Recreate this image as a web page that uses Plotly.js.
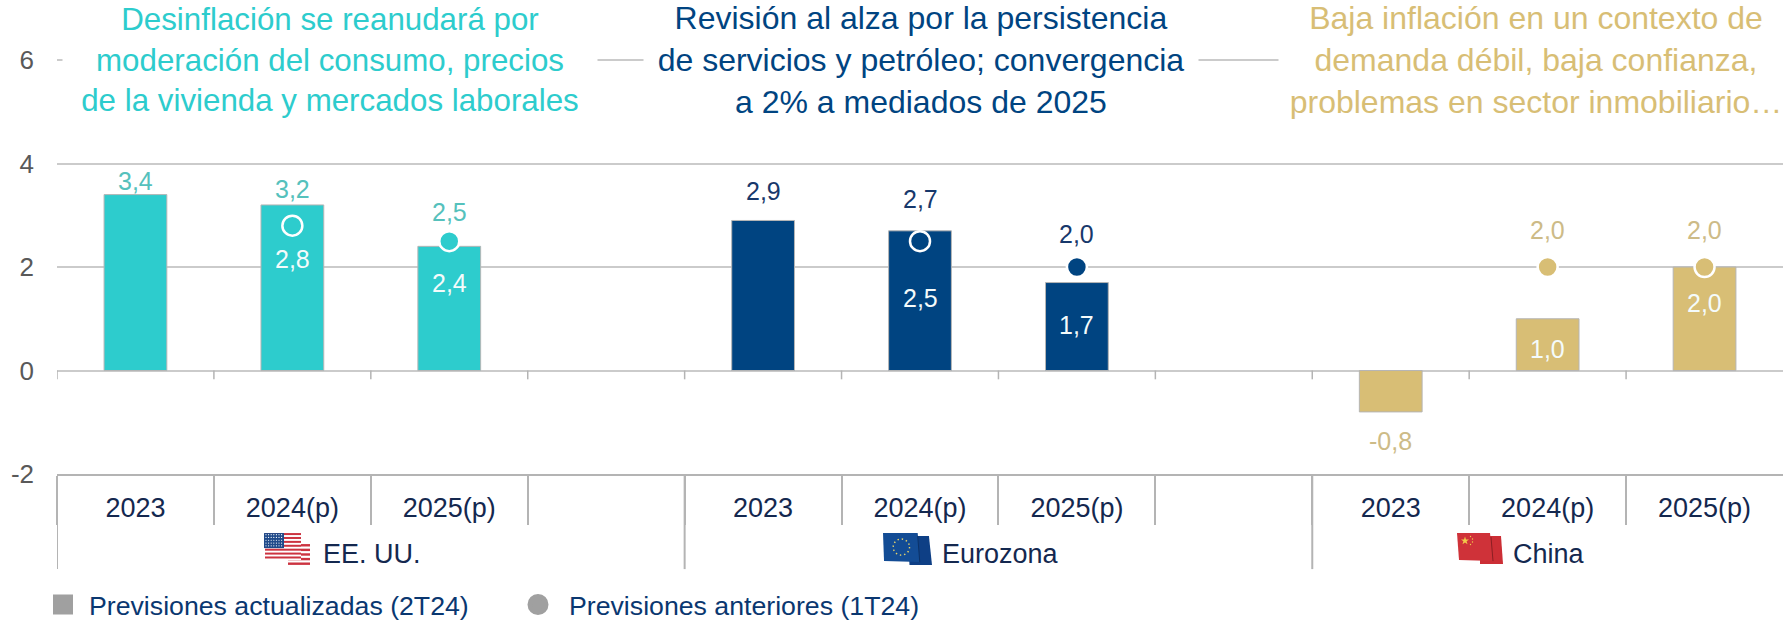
<!DOCTYPE html>
<html><head><meta charset="utf-8">
<script src="https://cdn.plot.ly/plotly-3.0.1.min.js"></script>
<style>html,body{margin:0;padding:0;background:#fff}#c{width:1791px;height:621px}</style>
</head><body><div id="c"></div>
<script>
// ---- data ----
const categories = ["2023","2024(p)","2025(p)","","2023","2024(p)","2025(p)","","2023","2024(p)","2025(p)"];
const updated = [3.4,3.2,2.4,null,2.9,2.7,1.7,null,-0.8,1.0,2.0];
const previous = [null,2.8,2.5,null,null,2.5,2.0,null,null,2.0,2.0];
const groupNames = ["EE. UU.","Eurozona","China"];
const groupTitles = [
 "Desinflación se reanudará por<br>moderación del consumo, precios<br>de la vivienda y mercados laborales",
 "Revisión al alza por la persistencia<br>de servicios y petróleo; convergencia<br>a 2% a mediados de 2025",
 "Baja inflación en un contexto de<br>demanda débil, baja confianza,<br>problemas en sector inmobiliario…"];
const legendNames = ["Previsiones actualizadas (2T24)","Previsiones anteriores (1T24)"];
const yTicks = [-2,0,2,4,6];

// ---- styling ----
const W=1791,H=621,L=57,R=8,B=147,YTOP=6.04,T=60.5-(YTOP-6)*51.69;
const TEAL="#2DCCCD",NAVY="#004481",GOLD="#D8BE75";
const GRID="#CBCBCB",AXIS="#B4B4B4",FONT="Liberation Sans, Arial, sans-serif";
const pointGroup=[0,0,0,0,1,1,1,1,2,2,2];
const groupColor=[TEAL,NAVY,GOLD];
const labelColor=["#55C1BC","#17386B","#CDBB87"];
const barShift=[14,16,-37,0,29,32,-42,0,-29,-30,-36];
const prevShift=[0,-33,29,0,0,-57,33,0,0,37,37];
const inBar=i=>updated[i]>0&&barShift[i]<0;
const prevInBar=[false,true,false,false,false,true,false,false,false,false,false];
const fmt=v=>v.toFixed(1).replace(".",",");
const colors=pointGroup.map(g=>groupColor[g]);
const px2x=p=>(p-L)/(W-L-R);
const px2y=p=>(H-B-p)/(H-T-B);
const px2d=p=>(p-L)/((W-L-R)/11)-0.5;
const boundaries=[];for(let i=0;i<11;i++)boundaries.push(i-0.5);
const groupEdges=[-0.5,3.5,7.5];

const traces=[
 {type:"bar",x:categories.map((_,i)=>i),y:updated,width:0.4,showlegend:false,hoverinfo:"skip",
  marker:{color:colors,line:{color:"#B5B5B5",width:1}}},
 {type:"scatter",mode:"markers",x:categories.map((_,i)=>i),y:previous,showlegend:false,hoverinfo:"skip",cliponaxis:false,
  marker:{color:colors,size:20,line:{color:"#FFFFFF",width:2.5}}},
 {type:"scatter",mode:"markers",x:[null],y:[null],name:legendNames[0],legend:"legend",
  marker:{symbol:"square",color:"#A0A0A0",size:16,line:{color:"#A0A0A0",width:4}}},
 {type:"scatter",mode:"markers",x:[null],y:[null],name:legendNames[1],legend:"legend2",
  marker:{symbol:"circle",color:"#A0A0A0",size:16,line:{color:"#A0A0A0",width:5}}}
];

const annotations=[];
// panel titles (white box masks the top gridline)
const titleBox=[[330,532],[921,552],[1536,512]];
const titleSize=[31.3,32,32];
groupTitles.forEach((t,g)=>annotations.push({xref:"paper",yref:"y",x:px2x(titleBox[g][0]),y:6,text:t,showarrow:false,
  xanchor:"center",yanchor:"middle",width:titleBox[g][1],height:118,align:"center",bgcolor:"#FFFFFF",
  font:{family:FONT,size:titleSize[g],color:groupColor[g]}}));
// value labels
updated.forEach((v,i)=>{ if(v===null)return;
  annotations.push({x:i,y:v,text:fmt(v),showarrow:false,yshift:barShift[i],xanchor:"center",yanchor:"middle",
   font:{family:FONT,size:25,color:inBar(i)?"#F4FBFB":labelColor[pointGroup[i]]}});});
previous.forEach((v,i)=>{ if(v===null)return;
  annotations.push({x:i,y:v,text:fmt(v),showarrow:false,yshift:prevShift[i],xanchor:"center",yanchor:"middle",
   font:{family:FONT,size:25,color:prevInBar[i]?"#F4FBFB":labelColor[pointGroup[i]]}});});
// group labels
const groupLabelPx=[321,940,1511];
groupNames.forEach((n,g)=>annotations.push({xref:"x",yref:"paper",x:px2d(groupLabelPx[g]),y:px2y(554),text:n,showarrow:false,
  xanchor:"left",yanchor:"middle",font:{family:FONT,size:27,color:"#14284F"}}));

const shapes=[];
// short ticks under the zero line
boundaries.forEach(b=>shapes.push({type:"line",xref:"x",yref:"y",x0:b,x1:b,y0:0,y1:-0.17,line:{color:AXIS,width:1.5}}));
// long group dividers
groupEdges.forEach(b=>shapes.push({type:"line",xref:"x",yref:"paper",x0:b,x1:b,y0:0,y1:px2y(569),line:{color:AXIS,width:2}}));

const svg=s=>"data:image/svg+xml;utf8,"+encodeURIComponent(s);
let usStripes="";for(let i=0;i<7;i++)usStripes+=`<rect x="1" y="${i*3.9}" width="36" height="2" fill="#CC3340"/>`;
let usBack="";for(let i=0;i<5;i++)usBack+=`<rect x="24" y="${11+i*4.6}" width="22" height="2.4" fill="#CC3340"/>`;
let usStars="";for(let r=0;r<5;r++)for(let c=0;c<7;c++)usStars+=`<circle cx="${2+c*2.6}" cy="${1.6+r*2.8}" r="0.6" fill="#fff"/>`;
const flagUS=svg(`<svg xmlns="http://www.w3.org/2000/svg" viewBox="0 0 46 32" width="46" height="32">${usBack}<rect x="1" y="0" width="36" height="27" fill="#fff"/>${usStripes}<rect x="0" y="0" width="20" height="15" fill="#1F4A8A"/>${usStars}</svg>`);
const flagEU=svg(`<svg xmlns="http://www.w3.org/2000/svg" viewBox="0 0 48 32" width="48" height="32"><polygon points="24,3 45,3 48,32 26,32" fill="#0E3F85"/><polygon points="0,0 34,0 36,29 1,28" fill="#134C95"/><line x1="34" y1="3" x2="36" y2="29" stroke="#0A2C5E" stroke-width="0.8"/><circle cx="18" cy="14" r="8" fill="none" stroke="#E8D46A" stroke-width="1.4" stroke-dasharray="1.4 2.8"/></svg>`);
const flagCN=svg(`<svg xmlns="http://www.w3.org/2000/svg" viewBox="0 0 46 32" width="46" height="32"><polygon points="23,3 44,3 46,31 23,31" fill="#CC2E35"/><polygon points="0,0 33,0 36,28 2,27" fill="#CF3239"/><line x1="34" y1="4" x2="36" y2="28" stroke="#7A1A1E" stroke-width="0.8"/><polygon points="8,3.5 9,6.5 12,6.5 9.6,8.3 10.5,11.2 8,9.4 5.5,11.2 6.4,8.3 4,6.5 7,6.5" fill="#F2C94A"/><circle cx="13.5" cy="3.5" r="0.7" fill="#F2C94A"/><circle cx="15.5" cy="6" r="0.7" fill="#F2C94A"/><circle cx="15.5" cy="9" r="0.7" fill="#F2C94A"/><circle cx="13.5" cy="11.5" r="0.7" fill="#F2C94A"/></svg>`);
const flagBox=[[264,533,46,32,flagUS],[883,533,49,32,flagEU],[1457,533,46,32,flagCN]];
const images=flagBox.map(f=>({source:f[4],xref:"paper",yref:"paper",x:px2x(f[0]),y:px2y(f[1]),
  sizex:f[2]/(W-L-R),sizey:f[3]/(H-T-B),xanchor:"left",yanchor:"top",sizing:"stretch",layer:"above"}));

const legendBase={orientation:"h",xanchor:"left",yanchor:"middle",traceorder:"normal",itemsizing:"trace",maxheight:200,
  font:{family:FONT,size:26.7,color:"#0A3770"},bgcolor:"rgba(0,0,0,0)"};
const layout={
 width:W,height:H,margin:{l:L,r:R,t:T,b:B,pad:0,autoexpand:false},paper_bgcolor:"#fff",plot_bgcolor:"#fff",showlegend:true,
 font:{family:FONT},bargap:0.6,
 xaxis:{type:"linear",range:[-0.5,10.5],tickmode:"array",tickvals:categories.map((_,i)=>i),ticktext:categories,
  showgrid:false,zeroline:false,showline:true,linecolor:AXIS,linewidth:2,ticks:"",ticklabelstandoff:9,
  tickfont:{family:FONT,size:27,color:"#14284F"},
  minor:{tickmode:"array",tickvals:boundaries,ticks:"outside",ticklen:49,tickwidth:2,tickcolor:AXIS,showgrid:false}},
 yaxis:{range:[-2,YTOP],tickmode:"array",tickvals:yTicks,ticktext:yTicks.map(String),showgrid:true,gridcolor:GRID,gridwidth:2,
  zeroline:true,zerolinecolor:GRID,zerolinewidth:2,showline:false,ticks:"",ticklabelstandoff:22,
  tickfont:{family:FONT,size:26,color:"#595959"}},
 legend:{...legendBase,x:px2x(37),y:px2y(604.5),itemwidth:42},
 legend2:{...legendBase,x:px2x(507),y:px2y(604.5),itemwidth:52},
 annotations,shapes,images
};
Plotly.newPlot("c",traces,layout,{displayModeBar:false,staticPlot:true});
</script></body></html>
